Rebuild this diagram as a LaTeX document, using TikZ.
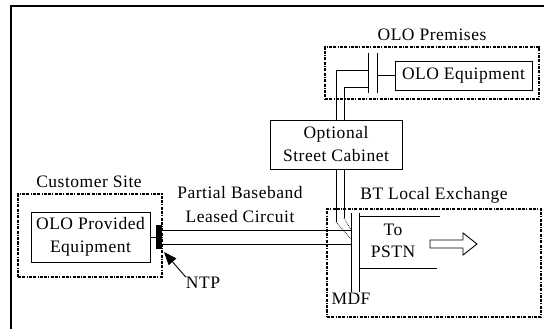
\documentclass[tikz,border=0pt]{standalone}
\usepackage{fontspec}
\setmainfont{Liberation Serif}[LetterSpace=3]
\usetikzlibrary{arrows.meta}
\tikzset{
  lbl/.style={inner sep=0pt, font=\fontsize{17.5}{23}\selectfont, align=center},
  box/.style={draw, line width=0.9pt, fill=white, inner sep=0pt, font=\fontsize{17.5}{23}\selectfont, align=center},
  zone/.style={draw, line width=1.3pt, inner sep=0pt, dash pattern=on 3pt off 1.3pt on 3pt off 1.3pt on 1pt off 1.3pt},
  wire/.style={line width=0.9pt},
  bar/.style={line width=0.9pt},
}
\begin{document}
\begin{tikzpicture}[x=1pt,y=-1pt]
\useasboundingbox (0,0) rectangle (544,329);
% frame
\draw[line width=1.2pt] (11,329) -- (11,6) -- (544,6);

% zones
\node[zone, minimum width=214, minimum height=52] (prem) at (432,73) {};
\node[zone, minimum width=214, minimum height=108] (exch) at (434,263) {};
\node[zone, minimum width=144, minimum height=83] (cust) at (90,235.5) {};
\node[lbl] (premlbl) at (432,35) {OLO Premises};
\node[lbl] (exchlbl) at (434,195) {BT Local Exchange};
\node[lbl] (custlbl) at (89,182) {Customer Site};

% premises bars
\coordinate (pl1) at (368,53); \coordinate (pl2) at (368,93);
\coordinate (pr1) at (377,53); \coordinate (pr2) at (377,93);
\draw[bar] (pl1) -- (pl2);
\draw[bar] (pr1) -- (pr2);

% MDF bars
\coordinate (ml1) at (351,213); \coordinate (ml2) at (351,292);
\coordinate (mr1) at (359,213); \coordinate (mr2) at (359,292);
\draw[bar] (ml1) -- (ml2);
\draw[bar] (mr1) -- (mr2);

% vertical pair from premises to MDF
\coordinate (a1) at (368,70); \coordinate (a2) at (336,70); \coordinate (a3) at (336,222); \coordinate (a4) at (351,239);
\coordinate (b1) at (368,87); \coordinate (b2) at (344,87); \coordinate (b3) at (344,218); \coordinate (b4) at (351,230);
\draw[wire] (a1) -- (a2) -- (a3);
\draw[wire] (b1) -- (b2) -- (b3);
\draw[line width=0.7pt, densely dotted] (a3) -- (a4);
\draw[line width=0.7pt, densely dotted] (b3) -- (b4);

% boxes
\node[box, minimum width=137, minimum height=29] (oloeq) at (463.5,75.5) {OLO Equipment};
\node[box, minimum width=132, minimum height=49] (cab) at (336,144.5) {Optional\\Street Cabinet};
\node[box, minimum width=119, minimum height=50] (olopeq) at (90.5,237) {OLO Provided\\Equipment};
\node[fill=black, inner sep=0pt, minimum width=6, minimum height=24] (ntp) at (159,237) {};

\draw[wire] (377,75.5) -- (oloeq.west);
\draw[wire] (olopeq.east) -- (ntp.west);

% leased circuit
\coordinate (l1) at (351,230); \coordinate (l2) at (351,244);
\draw[wire] (ntp.east |- l1) -- (l1);
\draw[wire] (ntp.east |- l2) -- (l2);
\node[lbl] (pb) at (240,193) {Partial Baseband};
\node[lbl] (lc) at (240,217) {Leased Circuit};

% MDF outgoing lines
\coordinate (o1) at (440,216); \coordinate (o2) at (437,268);
\draw[wire] (mr1 |- o1) -- (o1);
\draw[wire] (mr1 |- o2) -- (o2);
\node[lbl] (to) at (393,230) {To};
\node[lbl] (pstn) at (393,252) {PSTN};
\node[lbl] (mdf) at (351,299) {MDF};

% hollow arrow
\draw[line width=0.9pt, fill=white] (430,240) -- (463,240) -- (463,233) -- (477,244) -- (463,255) -- (463,248) -- (430,248) -- cycle;

% NTP
\node[lbl] (ntplbl) at (203,283) {NTP};
\coordinate (ntptip) at (164,252);
\draw[line width=0.9pt, -{Triangle[length=13pt,width=10pt]}] (ntplbl.north west) -- (ntptip);
\end{tikzpicture}
\end{document}
